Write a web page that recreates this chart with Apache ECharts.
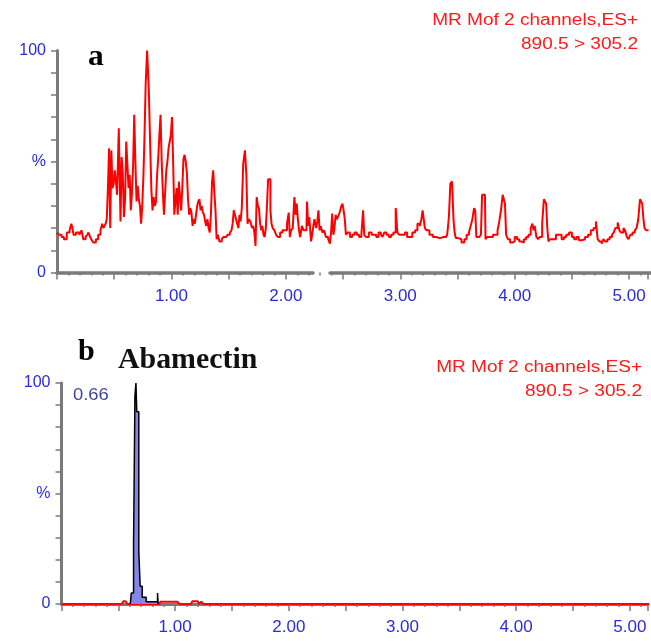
<!DOCTYPE html>
<html>
<head>
<meta charset="utf-8">
<script src="https://cdn.jsdelivr.net/npm/echarts@6/dist/echarts.min.js"></script>
<style>
html, body { margin: 0; padding: 0; background: #fff; }
#main { width: 651px; height: 641px; }
</style>
</head>
<body>
<div id="main"></div>
<script>
(function () {
	// panel a : noise trace (retention time, %)
	var traceA = [
		[0.00, 18], [0.03, 17], [0.05, 16], [0.07, 15], [0.10, 18], [0.12, 19], [0.13, 22], [0.14, 20],
		[0.15, 17], [0.18, 18], [0.21, 17], [0.22, 19], [0.24, 15], [0.26, 16], [0.27, 17], [0.28, 18],
		[0.30, 16], [0.31, 14.5], [0.33, 13.5], [0.35, 15], [0.37, 17], [0.39, 19], [0.40, 22], [0.41, 20],
		[0.42, 21], [0.43, 22], [0.44, 24], [0.45, 38], [0.46, 56], [0.47, 20], [0.48, 55], [0.49, 38],
		[0.50, 40], [0.51, 46], [0.52, 41], [0.53, 35], [0.55, 65], [0.56, 23], [0.57, 52], [0.58, 44],
		[0.59, 25], [0.60, 33], [0.61, 59], [0.62, 49], [0.63, 38], [0.64, 44], [0.65, 28], [0.66, 36],
		[0.67, 48], [0.68, 71], [0.69, 50], [0.70, 32], [0.71, 39], [0.72, 33], [0.73, 30], [0.74, 22],
		[0.75, 30], [0.76, 43], [0.77, 62], [0.78, 85], [0.795, 100], [0.81, 82], [0.82, 56], [0.83, 37],
		[0.84, 28], [0.85, 34], [0.86, 30], [0.87, 32], [0.88, 44], [0.89, 52], [0.90, 62], [0.91, 71],
		[0.92, 50], [0.93, 36], [0.94, 26], [0.95, 36], [0.96, 46], [0.97, 50], [0.98, 56], [0.99, 59],
		[1.00, 62], [1.01, 70], [1.02, 50], [1.03, 26], [1.04, 32], [1.05, 38], [1.06, 26], [1.07, 41],
		[1.08, 34], [1.09, 28], [1.10, 38], [1.11, 51], [1.12, 53], [1.13, 50], [1.14, 45], [1.15, 33],
		[1.16, 26], [1.17, 29], [1.18, 27], [1.19, 21], [1.20, 24], [1.21, 22], [1.22, 26], [1.23, 30],
		[1.24, 32], [1.25, 33], [1.26, 28], [1.27, 30], [1.28, 27], [1.29, 26], [1.30, 23], [1.31, 21],
		[1.32, 24], [1.33, 20], [1.34, 18], [1.35, 26], [1.36, 41], [1.37, 46], [1.38, 36], [1.39, 28],
		[1.40, 15], [1.41, 17], [1.43, 14], [1.45, 15], [1.46, 16], [1.48, 16], [1.50, 17], [1.52, 18],
		[1.53, 19], [1.54, 22], [1.55, 28], [1.56, 26], [1.57, 24], [1.58, 22], [1.59, 20], [1.60, 26],
		[1.61, 23], [1.62, 29], [1.635, 49], [1.65, 55], [1.66, 44], [1.67, 22], [1.68, 24], [1.70, 23],
		[1.71, 20], [1.72, 21], [1.73, 18], [1.74, 12], [1.75, 34], [1.76, 30], [1.77, 29], [1.78, 22],
		[1.79, 19], [1.80, 21], [1.81, 17], [1.82, 16], [1.83, 20], [1.84, 30], [1.85, 42], [1.86, 42],
		[1.87, 28], [1.88, 22], [1.89, 20], [1.91, 19], [1.92, 17], [1.94, 16], [1.96, 18], [1.98, 19],
		[2.00, 19], [2.02, 22], [2.03, 27], [2.04, 16], [2.05, 19], [2.07, 20], [2.08, 34], [2.09, 26],
		[2.10, 31], [2.11, 24], [2.12, 19], [2.13, 16], [2.15, 21], [2.16, 19], [2.18, 19], [2.19, 32],
		[2.20, 21], [2.21, 25], [2.23, 14], [2.24, 19], [2.26, 24], [2.27, 20], [2.28, 23], [2.29, 28],
		[2.30, 19], [2.31, 21], [2.33, 18], [2.34, 19], [2.36, 16], [2.38, 15], [2.39, 13], [2.40, 18],
		[2.41, 26.5], [2.42, 17], [2.43, 20], [2.44, 26], [2.45, 24], [2.46, 25], [2.48, 27], [2.49, 30],
		[2.50, 31], [2.51, 28], [2.52, 24], [2.53, 17], [2.55, 18], [2.57, 16], [2.59, 17], [2.61, 18],
		[2.63, 17], [2.65, 16], [2.67, 17], [2.68, 28], [2.69, 17], [2.71, 16], [2.74, 18], [2.76, 17],
		[2.78, 17], [2.80, 16], [2.82, 18], [2.84, 17], [2.85, 16], [2.87, 18], [2.89, 17], [2.91, 16],
		[2.93, 17], [2.95, 18], [2.97, 29], [2.98, 18], [3.00, 17], [3.03, 17], [3.05, 18], [3.07, 16],
		[3.09, 16], [3.12, 18], [3.14, 19], [3.16, 22], [3.18, 21], [3.19, 24], [3.20, 28], [3.21, 24],
		[3.22, 20], [3.24, 19], [3.27, 17], [3.30, 16], [3.33, 15.5], [3.36, 16], [3.40, 16], [3.42, 17],
		[3.43, 25], [3.445, 40], [3.46, 41], [3.47, 24], [3.48, 18], [3.49, 15.5], [3.52, 15], [3.55, 13.5],
		[3.57, 15], [3.59, 17], [3.61, 18], [3.62, 21], [3.64, 24], [3.65, 29], [3.66, 28], [3.67, 16],
		[3.69, 16], [3.70, 16], [3.71, 17], [3.72, 35], [3.74, 35], [3.75, 15], [3.77, 16], [3.80, 16],
		[3.82, 17], [3.84, 17], [3.86, 19], [3.87, 23], [3.89, 28], [3.90, 35], [3.91, 33], [3.92, 31],
		[3.93, 17], [3.95, 15], [3.97, 13.5], [3.99, 14], [4.01, 16], [4.03, 15], [4.05, 14], [4.07, 13.5],
		[4.09, 15], [4.11, 16], [4.13, 17], [4.15, 20], [4.16, 22], [4.17, 19], [4.18, 21], [4.20, 16],
		[4.21, 15], [4.23, 16], [4.25, 22], [4.26, 33], [4.27, 32], [4.28, 31], [4.29, 20], [4.30, 14],
		[4.32, 15], [4.35, 15], [4.37, 17], [4.40, 17], [4.42, 15], [4.44, 16], [4.46, 17], [4.49, 18],
		[4.51, 16], [4.53, 15], [4.55, 16], [4.57, 14.5], [4.60, 15], [4.63, 16], [4.65, 17], [4.68, 19],
		[4.70, 20], [4.72, 23], [4.73, 15], [4.75, 14], [4.77, 13], [4.78, 15], [4.80, 14], [4.82, 15],
		[4.84, 16], [4.86, 17], [4.87, 18], [4.89, 20], [4.91, 22.5], [4.92, 19], [4.94, 18], [4.96, 20],
		[4.97, 19], [4.99, 16], [5.00, 15], [5.02, 17], [5.04, 18], [5.06, 19], [5.07, 20], [5.09, 24],
		[5.10, 33], [5.11, 32], [5.12, 31], [5.13, 24], [5.14, 20], [5.16, 19], [5.17, 19]
	];

	// panel b : red baseline and the abamectin peak
	var baseB = [
		[0, 0], [0.53, 0], [0.545, 1.2], [0.565, 1.2], [0.58, 0], [0.86, 0], [0.87, 1], [1.02, 1],
		[1.04, 0], [1.14, 0], [1.15, 1.2], [1.20, 1.2], [1.21, 0], [1.23, 1], [1.25, 0], [5.17, 0]
	];
	var peakB = [
		[0.605, 0], [0.614, 5], [0.634, 27], [0.646, 94], [0.655, 100], [0.662, 87], [0.680, 24],
		[0.692, 8], [0.71, 3], [0.745, 1], [0.845, 5], [0.85, 0]
	];

	var headerLines = ['MR Mof 2 channels,ES+', '890.5 > 305.2'];
	var panelTags = ['a', 'b'];
	var compoundName = 'Abamectin';
	var peakRt = '0.66';
	var yLabelText = { 0: '0', 50: '%', 100: '100' };

	var axisGray = '#7a7a7a';
	var labelBlue = '#2b2bd8';
	var sans = '"Liberation Sans", Arial, sans-serif';
	var serif = '"Liberation Serif", "Times New Roman", serif';

	function xLabel(v) {
		return (v > 0 && Math.abs(v - Math.round(v)) < 1e-6) ? v.toFixed(2) : '';
	}
	function yLabel(v) {
		return yLabelText[v] !== undefined ? yLabelText[v] : '';
	}

	function tickAxis(grid, max, showLine) {
		return {
			gridIndex: grid, type: 'value', min: 0, max: max, interval: 0.5,
			axisLine: { show: showLine, onZero: false, lineStyle: { color: axisGray, width: 3 } },
			axisTick: { show: true, length: 7, lineStyle: { color: axisGray, width: 1.5 } },
			minorTick: { show: true, splitNumber: 5, length: 3, lineStyle: { color: axisGray, width: 1.5 } },
			axisLabel: { formatter: xLabel, margin: 15, color: labelBlue, fontSize: 17, fontFamily: sans, showMinLabel: false },
			splitLine: { show: false }, minorSplitLine: { show: false }
		};
	}
	function lineOnly(grid) {
		return {
			gridIndex: grid, type: 'value', min: 0, max: 1,
			axisLine: { show: true, onZero: false, lineStyle: { color: axisGray, width: 3.5 } },
			axisTick: { show: false }, axisLabel: { show: false }, splitLine: { show: false }
		};
	}
	function pctAxis(grid) {
		return {
			gridIndex: grid, type: 'value', min: 0, max: 100, interval: 10,
			axisLine: { show: true, lineStyle: { color: axisGray, width: 3 } },
			axisTick: { show: true, length: 6, lineStyle: { color: axisGray, width: 1.5 } },
			axisLabel: { formatter: yLabel, margin: 11, color: labelBlue, fontSize: 16, fontFamily: sans },
			splitLine: { show: false }
		};
	}
	function hiddenY(grid) {
		return { gridIndex: grid, type: 'value', min: 0, max: 100, show: false };
	}

	function header(right, y, txt, opts) {
		return {
			type: 'text', x: right, y: y, scaleX: (opts && opts.sx) || 1.19,
			style: {
				text: txt, fill: (opts && opts.color) || '#ff1a1a',
				font: ((opts && opts.font) || '16px ' + sans),
				align: (opts && opts.align) || 'right', verticalAlign: 'middle'
			}
		};
	}

	var chart = echarts.init(document.getElementById('main'));
	chart.setOption({
		animation: false,
		backgroundColor: '#ffffff',
		grid: [
			{ left: 57, top: 50.5, right: 0, height: 222 },
			{ left: 57, top: 50.5, width: 256, height: 222 },
			{ left: 330, top: 50.5, right: 0, height: 222 },
			{ left: 61.5, top: 383, right: 0, height: 221 }
		],
		xAxis: [
			tickAxis(0, 5.165, false),
			lineOnly(1),
			lineOnly(2),
			tickAxis(3, 5.16, true)
		],
		yAxis: [pctAxis(0), hiddenY(1), hiddenY(2), pctAxis(3)],
		series: [
			{
				type: 'line', xAxisIndex: 0, yAxisIndex: 0, data: traceA, step: 'middle',
				showSymbol: false, lineStyle: { color: '#ff0000', width: 2 }, z: 3
			},
			{
				type: 'line', xAxisIndex: 3, yAxisIndex: 3, data: baseB,
				showSymbol: false, lineStyle: { color: '#ff0000', width: 2 }, z: 3
			},
			{
				type: 'line', xAxisIndex: 3, yAxisIndex: 3, data: peakB, step: 'end',
				showSymbol: false, lineStyle: { color: '#000000', width: 1.5 },
				areaStyle: { color: '#8585ea', opacity: 1 }, z: 4
			}
		],
		graphic: [
			header(638, 21, headerLines[0]),
			header(638, 45, headerLines[1]),
			header(642, 368, headerLines[0]),
			header(642, 392, headerLines[1]),
			header(88, 57, panelTags[0], { color: '#000', font: 'bold 30px ' + serif, align: 'left', sx: 1.05 }),
			header(78, 352, panelTags[1], { color: '#000', font: 'bold 30px ' + serif, align: 'left', sx: 1 }),
			header(118, 361, compoundName, { color: '#111', font: 'bold 29px ' + serif, align: 'left', sx: 1.03 }),
			header(73, 396, peakRt, { color: '#4545a0', font: '16px ' + sans, align: 'left', sx: 1.15 })
		]
	});
})();
</script>
</body>
</html>
